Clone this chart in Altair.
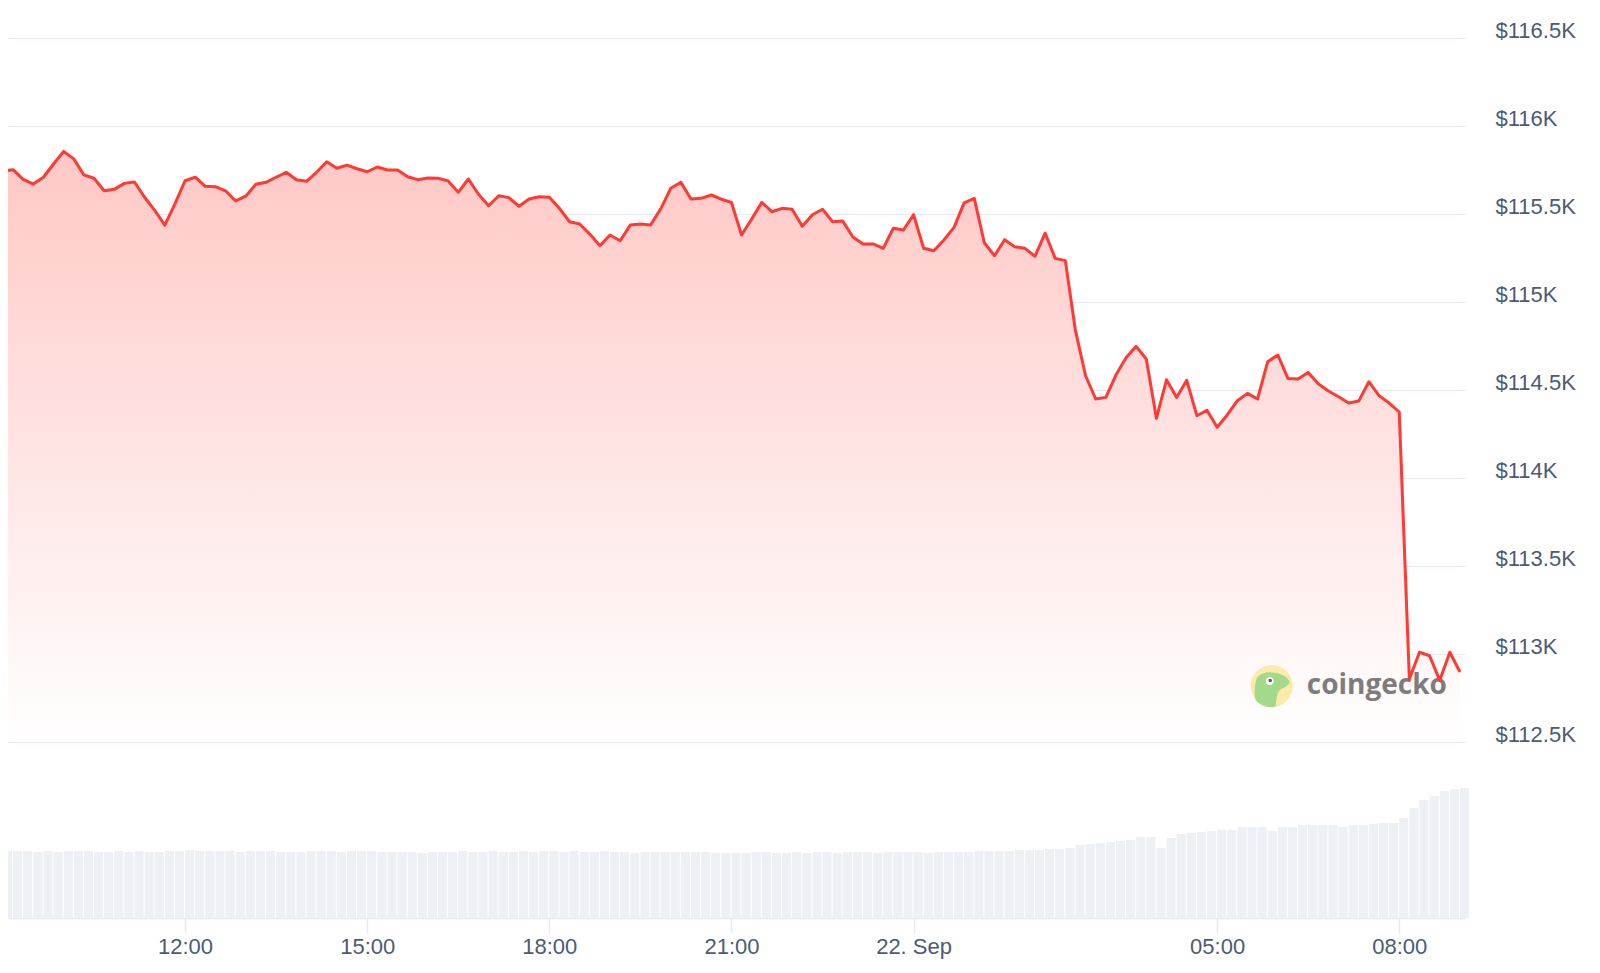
import altair as alt
import pandas as pd

# BTC price, 10-minute steps from 21 Sep 09:00 to 22 Sep 09:00 (USD)
price = [
    115744, 115752, 115697, 115670, 115709, 115784, 115856, 115813, 115722, 115703,
    115632, 115640, 115674, 115682, 115595, 115521, 115437, 115557, 115689, 115709,
    115657, 115655, 115632, 115574, 115601, 115669, 115680, 115709, 115737, 115695,
    115686, 115737, 115797, 115760, 115778, 115757, 115740, 115767, 115750, 115750,
    115712, 115695, 115705, 115703, 115688, 115623, 115699, 115612, 115547, 115604,
    115593, 115544, 115585, 115598, 115595, 115532, 115456, 115443, 115386, 115320,
    115381, 115348, 115437, 115443, 115437, 115528, 115646, 115680, 115585, 115589,
    115608, 115584, 115566, 115381, 115472, 115566, 115513, 115532, 115527, 115430,
    115496, 115527, 115456, 115460, 115369, 115330, 115330, 115305, 115419, 115409,
    115496, 115305, 115291, 115352, 115424, 115563, 115589, 115335, 115263, 115354,
    115314, 115305, 115260, 115392, 115248, 115235, 114837, 114581, 114449, 114458,
    114585, 114683, 114748, 114676, 114339, 114558, 114458, 114555, 114354, 114385,
    114288, 114358, 114439, 114481, 114449, 114661, 114699, 114566, 114562, 114600,
    114536, 114494, 114462, 114426, 114437, 114547, 114468, 114426, 114375, 112858,
    113010, 112990, 112850, 113010, 112898,
]

# 24h trading volume (billion USD), same time steps
volume_bn = [
    33.5, 33.5, 33.5, 33.0, 33.5, 33.0, 33.5, 33.5, 33.5, 33.0,
    33.0, 33.5, 33.0, 33.5, 33.0, 33.0, 33.5, 33.5, 34.0, 33.5,
    33.5, 33.5, 33.5, 33.0, 33.5, 33.5, 33.5, 33.0, 33.0, 33.0,
    33.5, 33.5, 33.5, 33.0, 33.5, 33.5, 33.5, 33.0, 33.0, 33.0,
    33.0, 32.5, 33.0, 33.0, 33.0, 33.5, 33.0, 33.0, 33.5, 33.0,
    33.0, 33.5, 33.0, 33.5, 33.5, 33.0, 33.5, 33.0, 33.0, 33.5,
    33.0, 33.0, 32.5, 33.0, 33.0, 33.0, 33.0, 33.0, 33.0, 33.0,
    32.5, 32.5, 32.5, 32.5, 33.0, 33.0, 32.5, 32.5, 33.0, 32.5,
    33.0, 33.0, 32.5, 33.0, 33.0, 33.0, 32.5, 33.0, 33.0, 33.0,
    33.0, 32.5, 33.0, 33.0, 33.0, 33.0, 33.5, 33.5, 33.5, 33.5,
    34.0, 34.0, 34.0, 34.5, 34.5, 35.0, 36.5, 37.0, 37.5, 38.0,
    38.5, 39.0, 40.5, 40.5, 35.0, 40.0, 42.0, 42.5, 43.0, 43.5,
    44.0, 44.0, 45.5, 45.5, 45.5, 43.5, 45.5, 45.5, 46.5, 46.5,
    46.5, 46.5, 45.5, 46.5, 46.5, 47.0, 47.5, 47.5, 50.0, 55.0,
    59.0, 61.0, 63.5, 64.5, 65.0,
]

price_ticks = [112500, 113000, 113500, 114000, 114500, 115000, 115500, 116000, 116500]
time_ticks = [(21, 12), (21, 15), (21, 18), (21, 21), (22, 0), (22, 5), (22, 8)]

times = pd.date_range("2025-09-21 09:00", periods=len(price), freq="10min")
df = pd.DataFrame({
    "t": times,
    "t_end": times + pd.Timedelta(minutes=9),
    "price": price,
    "vol": volume_bn,
})

wm = pd.DataFrame({
    "t": [pd.Timestamp("2025-09-22 05:54")],
    "price": [112818],
    "label": ["coingecko"],
})

LABEL_COLOR = "#4b5b75"
GRID = "#e6e9ef"
FONT = "Liberation Sans"

x_scale = alt.Scale(domain=[
    alt.DateTime(year=2025, month=9, date=21, hours=9, minutes=5),
    alt.DateTime(year=2025, month=9, date=22, hours=9, minutes=5),
])
x_axis = alt.Axis(
    values=[alt.DateTime(year=2025, month=9, date=d, hours=h) for d, h in time_ticks],
    labelExpr="hours(datum.value) == 0 ? '22. Sep' : timeFormat(datum.value, '%H:%M')",
    title=None, grid=False, domain=True, domainColor=GRID, domainWidth=1.5,
    ticks=True, tickColor=GRID, tickSize=15, tickWidth=1.5,
    labelFont=FONT, labelFontSize=22, labelColor=LABEL_COLOR, labelPadding=3,
)

def xenc():
    return alt.X("t:T", scale=x_scale, axis=x_axis)

price_scale = alt.Scale(domain=[111500, 116500], nice=False, zero=False)
price_axis = alt.Axis(
    orient="right", values=price_ticks, title=None,
    labelExpr="'$' + format(datum.value / 1000, '.1~f') + 'K'",
    grid=True, gridColor=GRID, gridWidth=1.2, domain=False, ticks=False,
    labelFont=FONT, labelFontSize=22, labelColor=LABEL_COLOR,
    labelPadding=30, labelAlign="left", labelBaseline="alphabetic", labelOffset=-1,
)

def yprice():
    return alt.Y("price:Q", scale=price_scale, axis=price_axis)

bars = alt.Chart(df).mark_rect(color="#edf0f4").encode(
    x=xenc(),
    x2="t_end:T",
    y=alt.Y("vol:Q", scale=alt.Scale(domain=[0, 440], nice=False), axis=None),
    y2=alt.datum(0),
)

area = alt.Chart(df).mark_area(
    color=alt.Gradient(
        gradient="linear",
        stops=[alt.GradientStop(color="#ffc8c6", offset=0),
               alt.GradientStop(color="#ffffff", offset=1)],
        x1=1, x2=1, y1=0, y2=1,
    )
).encode(
    x=xenc(),
    y=yprice(),
    y2=alt.datum(112500),
)

line = alt.Chart(df).mark_line(color="#ff3a33", strokeWidth=3, strokeJoin="round").encode(
    x=xenc(),
    y=yprice(),
)

gecko_path = ("M-0.73,-0.32 C-0.65,-0.55 -0.3,-0.68 0,-0.65 C0.35,-0.63 0.7,-0.5 0.84,-0.24 "
              "C0.88,-0.1 0.7,0.05 0.4,0.16 C0.25,0.3 0.22,0.6 0.19,0.97 "
              "C0,1.02 -0.25,1.0 -0.4,0.94 C-0.6,0.85 -0.75,0.7 -0.77,0.65 "
              "C-0.85,0.35 -0.82,0 -0.73,-0.32 Z")

wm_base = alt.Chart(wm).encode(x=xenc(), y=yprice())
wm_circle = wm_base.mark_point(shape="circle", filled=True, size=1764, color="#fbeaa8", opacity=1)
wm_gecko = wm_base.mark_point(shape=gecko_path, filled=True, size=1764, color="#a3d98a", opacity=1)
wm_eye = wm_base.mark_point(shape="circle", filled=True, size=60, color="#ffffff", opacity=1,
                            xOffset=-2, yOffset=-5)
wm_pupil = wm_base.mark_point(shape="circle", filled=True, size=12, color="#555555", opacity=1,
                              xOffset=-1.5, yOffset=-5.5)
wm_text = wm_base.mark_text(
    align="left", baseline="middle", xOffset=35, font="Open Sans", fontSize=28,
    fontWeight="bold", color="#7d7d7d",
).encode(text="label:N")

price_layer = alt.layer(area, wm_circle, wm_gecko, wm_eye, wm_pupil, wm_text, line)

chart = alt.layer(bars, price_layer).resolve_scale(y="independent").properties(
    width=1457,
    height=880,
    padding={"left": 0, "top": 30, "right": 120, "bottom": 50},
    autosize=alt.AutoSizeParams(type="none"),
    background="#ffffff",
).configure_view(stroke=None)

chart.save("out.html", embed_options={"renderer": "svg", "actions": False})
